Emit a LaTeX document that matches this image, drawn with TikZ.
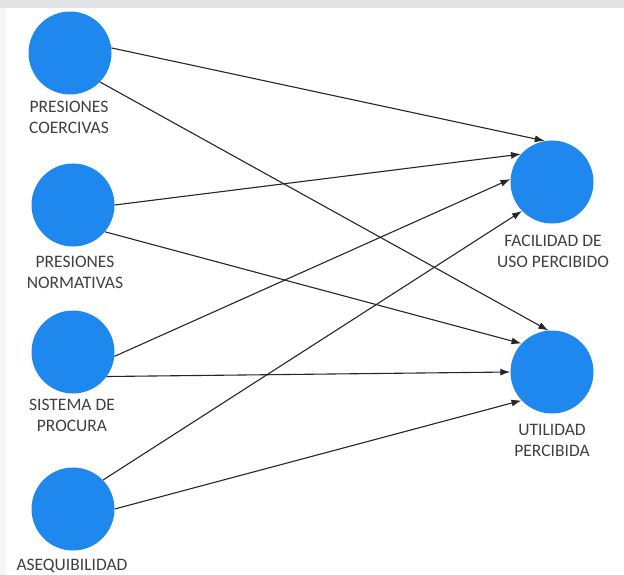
\documentclass[tikz,border=0pt]{standalone}
\usepackage{fontspec}
\setmainfont{Carlito}
\usetikzlibrary{arrows.meta}
\definecolor{nodeblue}{RGB}{31,136,238}
\definecolor{labelgrey}{RGB}{64,64,64}
\definecolor{bandgrey}{RGB}{228,228,230}
\definecolor{edgegrey}{RGB}{246,246,246}
\begin{document}
\begin{tikzpicture}[x=1pt,y=-1pt,
  construct/.style={circle,fill=nodeblue,draw=none,minimum size=83pt,inner sep=0pt},
  caption/.style={text=labelgrey,font=\fontsize{17.5}{21}\selectfont,align=center,inner sep=0pt},
  path/.style={draw=black!85,line width=1.1pt,-{Latex[length=10pt,width=7pt]}}]
  \useasboundingbox (0,0) rectangle (624,575);
  % page background with a faint grey margin
  \fill[white] (0,0) rectangle (624,575);
  \fill[edgegrey] (0,0) rectangle (6,575);
  \fill[bandgrey] (0,0) rectangle (624,8);

  % exogenous constructs
  \node[construct] (coer) at (70,53) {};
  \node[construct] (norm) at (73,205) {};
  \node[construct] (proc) at (73,352) {};
  \node[construct] (aseq) at (73,509) {};
  % endogenous constructs
  \node[construct] (facil) at (552,182) {};
  \node[construct] (util)  at (552,372) {};

  % captions
  \node[caption] (tcoer) at (69,117) {PRESIONES\\COERCIVAS};
  \node[caption] (tnorm) at (75,272) {PRESIONES\\NORMATIVAS};
  \node[caption] (tproc) at (72,415) {SISTEMA DE\\PROCURA};
  \node[caption] (taseq) at (72,566) {ASEQUIBILIDAD};
  \node[caption] (tfacil) at (553,251) {FACILIDAD DE\\USO PERCIBIDO};
  \node[caption] (tutil) at (552,440) {UTILIDAD\\PERCIBIDA};

  % structural paths
  \draw[path] (coer.7)   -- (facil.100);
  \draw[path] (coer.-44) -- (util.95);
  \draw[path] (norm.0)   -- (facil.138);
  \draw[path] (norm.-40) -- (util.137);
  \draw[path] (proc.-6)  -- (facil.176);
  \draw[path] (proc.-36) -- (util.180);
  \draw[path] (aseq.44)  -- (facil.224);
  \draw[path] (aseq.0)   -- (util.223);
\end{tikzpicture}
\end{document}
